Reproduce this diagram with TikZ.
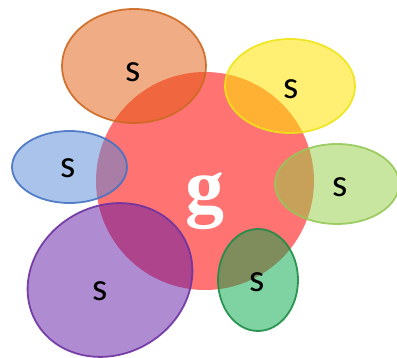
\documentclass[tikz,border=0pt]{standalone}
\usepackage{fontspec}
\usetikzlibrary{shapes.geometric}
\newfontfamily\sfont{Carlito}
\newfontfamily\gfont{Liberation Serif}
\definecolor{bigred}{RGB}{255,115,115}
\definecolor{orfill}{RGB}{226,92,12}
\definecolor{oredge}{RGB}{205,105,35}
\definecolor{yefill}{RGB}{255,228,0}
\definecolor{yeedge}{RGB}{238,228,25}
\definecolor{blfill}{RGB}{85,135,215}
\definecolor{bledge}{RGB}{70,115,195}
\definecolor{lgfill}{RGB}{145,205,65}
\definecolor{lgedge}{RGB}{150,200,90}
\definecolor{pufill}{RGB}{95,25,165}
\definecolor{puedge}{RGB}{110,50,160}
\definecolor{dgfill}{RGB}{0,165,70}
\definecolor{dgedge}{RGB}{30,140,70}
\begin{document}
\begin{tikzpicture}[x=1pt,y=-1pt,
  ell/.style={ellipse, inner sep=0pt, line width=1.8pt, fill opacity=0.5, draw opacity=0.9},
  slabel/.style={font=\sfont\fontsize{39}{44}\selectfont, text=black, inner sep=0pt},
  glabel/.style={font=\gfont\bfseries\fontsize{78}{84}\selectfont, text=white, inner sep=0pt}]
\useasboundingbox (0,0) rectangle (397,358);
\node[circle, fill=bigred, minimum size=218pt, inner sep=0pt] (g) at (205,181) {};
\node[ell, fill=orfill, draw=oredge, minimum width=144pt, minimum height=114pt] (orange) at (134,66) {};
\node[ell, fill=yefill, draw=yeedge, minimum width=130pt, minimum height=94pt, fill opacity=0.55] (yellow) at (290,86) {};
\node[ell, fill=blfill, draw=bledge, minimum width=115pt, minimum height=72pt] (blue) at (69.5,167) {};
\node[ell, fill=lgfill, draw=lgedge, minimum width=124pt, minimum height=80pt] (lgreen) at (337,184) {};
\node[ell, fill=pufill, draw=puedge, minimum width=170pt, minimum height=148pt, rotate=30] (purple) at (110,280) {};
\node[ell, fill=dgfill, draw=dgedge, minimum width=80pt, minimum height=102pt] (dgreen) at (258,280) {};
\node[glabel, anchor=base] (gt) at (205,213) {g};
\node[slabel] (so) at (133,72) {s};
\node[slabel] (sy) at (291,89) {s};
\node[slabel] (sb) at (68,168) {s};
\node[slabel] (slg) at (340,187) {s};
\node[slabel] (sp) at (100,291) {s};
\node[slabel] (sdg) at (257,282) {s};
\end{tikzpicture}
\end{document}
